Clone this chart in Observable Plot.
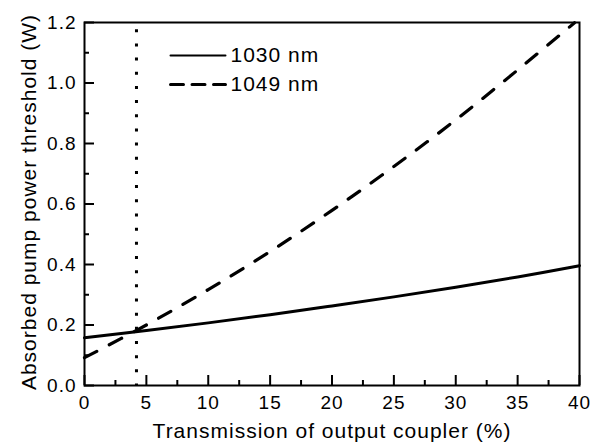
<!DOCTYPE html>
<html><head><meta charset="utf-8">
<script src="https://cdn.jsdelivr.net/npm/d3@7"></script>
<script src="https://cdn.jsdelivr.net/npm/@observablehq/plot@0.6"></script>
<style>
body{margin:0;background:#fff}
svg text{letter-spacing:1px}
</style>
</head><body><div id="chart"></div>
<script>
// Data
const transmission1030 = [0, 5, 10, 15, 20, 25, 30, 35, 40];
const threshold1030 = [0.158, 0.182, 0.207, 0.234, 0.263, 0.293, 0.325, 0.359, 0.396];
const transmission1049 = [0, 5, 10, 15, 20, 25, 30, 35, 39.6];
const threshold1049 = [0.092, 0.200, 0.317, 0.443, 0.579, 0.724, 0.878, 1.043, 1.199];
const markerTransmission = [4.2];
const seriesNames = ["1030 nm", "1049 nm"];
const xTicks = [0, 5, 10, 15, 20, 25, 30, 35, 40];
const xMinorTicks = [2.5, 7.5, 12.5, 17.5, 22.5, 27.5, 32.5, 37.5];
const yTicks = [0, 0.2, 0.4, 0.6, 0.8, 1.0, 1.2];
const yMinorTicks = [0.1, 0.3, 0.5, 0.7, 0.9, 1.1];
const xLabel = "Transmission of output coupler (%)";
const yLabel = "Absorbed pump power threshold (W)";

const data1030 = transmission1030.map((t, i) => ({t, p: threshold1030[i]}));
const data1049 = transmission1049.map((t, i) => ({t, p: threshold1049[i]}));

const lineShape = {draw(ctx, l) { ctx.moveTo(0, 0); ctx.lineTo(0, -l); }};
const font = "Liberation Sans, Arial, Helvetica, sans-serif";
const fmtY = d3.format(".1f");

const chart = Plot.plot({
  width: 600,
  height: 445,
  marginLeft: 84,
  marginRight: 21,
  marginTop: 22,
  marginBottom: 60,
  style: {fontFamily: font, background: "white", color: "black"},
  x: {domain: [0, 40], label: null},
  y: {domain: [0, 1.2], label: null},
  marks: [
    // ticks (inward)
    Plot.axisX(xTicks, {tickSize: -10, fill: "none", strokeWidth: 2, label: null}),
    Plot.axisX(xMinorTicks, {tickSize: -5, fill: "none", strokeWidth: 2, label: null}),
    Plot.axisY(yTicks, {tickSize: -10, fill: "none", strokeWidth: 2, label: null}),
    Plot.axisY(yMinorTicks, {tickSize: -5, fill: "none", strokeWidth: 2, label: null}),
    // tick labels
    Plot.text(xTicks, {x: d => d, frameAnchor: "bottom", dy: 10, text: d => String(d), textAnchor: "middle", lineAnchor: "top", fontSize: 19}),
    Plot.text(yTicks, {y: d => d, frameAnchor: "left", dx: -8, text: d => fmtY(d), textAnchor: "end", lineAnchor: "middle", fontSize: 19}),
    // dotted marker
    Plot.ruleX(markerTransmission, {y1: 0, y2: 1.2, stroke: "black", strokeWidth: 3, strokeDasharray: "3,11.17", strokeDashoffset: 1.5}),
    // curves
    Plot.line(data1030, {x: "t", y: "p", stroke: "black", strokeWidth: 3, curve: "catmull-rom"}),
    Plot.line(data1049, {x: "t", y: "p", stroke: "black", strokeWidth: 3.2, curve: "catmull-rom", strokeDasharray: "14,14"}),
    // legend
    Plot.vector([seriesNames[0]], {frameAnchor: "top-left", dx: 86, dy: 33, length: 55, rotate: 90, anchor: "start", shape: lineShape, stroke: "black", strokeWidth: 2}),
    Plot.vector([seriesNames[1]], {frameAnchor: "top-left", dx: 86, dy: 62, length: 55, rotate: 90, anchor: "start", shape: lineShape, stroke: "black", strokeWidth: 3, strokeDasharray: "13,8.5"}),
    Plot.text([seriesNames[0]], {frameAnchor: "top-left", dx: 146, dy: 33, text: d => d, textAnchor: "start", lineAnchor: "middle", fontSize: 21}),
    Plot.text([seriesNames[1]], {frameAnchor: "top-left", dx: 146, dy: 62, text: d => d, textAnchor: "start", lineAnchor: "middle", fontSize: 21}),
    // axis titles
    Plot.text([xLabel], {frameAnchor: "bottom", dy: 45.5, text: d => d, textAnchor: "middle", lineAnchor: "middle", fontSize: 21}),
    Plot.text([yLabel], {frameAnchor: "left", dx: -55.5, dy: -2, rotate: -90, text: d => d, textAnchor: "middle", lineAnchor: "middle", fontSize: 21}),
    Plot.frame({stroke: "black", strokeWidth: 2})
  ]
});
document.getElementById("chart").appendChild(chart);
</script>
</body></html>
